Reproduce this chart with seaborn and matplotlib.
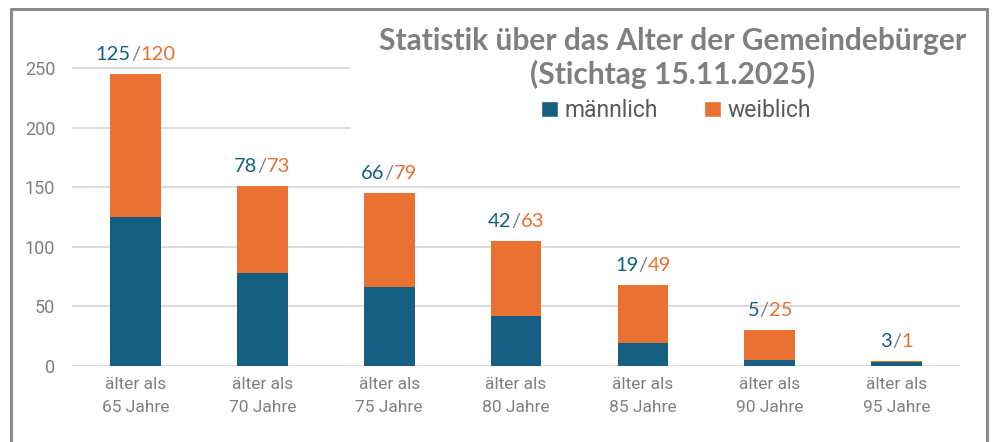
import matplotlib
matplotlib.use('Agg')
import matplotlib.pyplot as plt
import numpy as np
import pandas as pd
import seaborn as sns
from matplotlib.lines import Line2D
from matplotlib.patches import Patch, Rectangle
from matplotlib.offsetbox import AnnotationBbox, HPacker, TextArea

categories = ['älter als\n65 Jahre', 'älter als\n70 Jahre', 'älter als\n75 Jahre',
              'älter als\n80 Jahre', 'älter als\n85 Jahre', 'älter als\n90 Jahre',
              'älter als\n95 Jahre']
maennlich = [125, 78, 66, 42, 19, 5, 3]
weiblich = [120, 73, 79, 63, 49, 25, 1]
y_ticks = [0, 50, 100, 150, 200, 250]

blue = '#156082'
orange = '#e97132'
grey_txt = '#7f7f7f'

df = pd.DataFrame({'kat': categories, 'm': maennlich, 'w': weiblich})
df['total'] = df['m'] + df['w']

sns.set_style('white')
plt.rcParams['font.family'] = ['Roboto', 'DejaVu Sans']

fig = plt.figure(figsize=(9.94, 4.42), dpi=100)
ax = fig.add_axes([0.0724, 0.172, 0.8936, 0.728])

sns.barplot(data=df, x='kat', y='total', color=orange, saturation=1,
            width=0.4, linewidth=0, ax=ax, zorder=2)
sns.barplot(data=df, x='kat', y='m', color=blue, saturation=1,
            width=0.4, linewidth=0, ax=ax, zorder=3)

ax.set_xlim(-0.5, 6.5)
ax.set_ylim(0, 270)
ax.set_yticks(y_ticks)
ax.yaxis.grid(True, color='#d9d9d9', linewidth=1.3)
ax.set_axisbelow(True)
for s in ax.spines.values():
    s.set_visible(False)
ax.set_xlabel('')
ax.set_ylabel('')
ax.tick_params(axis='both', length=0, colors='#808080')
ax.tick_params(axis='x', pad=8, labelsize=12.5)
ax.tick_params(axis='y', pad=12, labelsize=13)
for lab in ax.get_xticklabels():
    lab.set_linespacing(1.7)

# white title box covering the upper gridlines
ax.add_patch(Rectangle((0.313, 0.70), 0.70, 0.40, transform=ax.transAxes,
                       facecolor='white', edgecolor='none', zorder=1,
                       clip_on=False))

# value labels "m/w"
for i, (m, w) in enumerate(zip(maennlich, weiblich)):
    parts = [TextArea(str(m), textprops=dict(color=blue, size=14.5, family='Lato')),
             TextArea('/', textprops=dict(color='#808080', size=14.5, family='Lato')),
             TextArea(str(w), textprops=dict(color=orange, size=14.5, family='Lato'))]
    box = HPacker(children=parts, align='baseline', pad=0, sep=0)
    ab = AnnotationBbox(box, (i, m + w), xybox=(0, 8), xycoords='data',
                        boxcoords='offset points', box_alignment=(0.5, 0),
                        frameon=False, zorder=5)
    ax.add_artist(ab)

fig.text(0.677, 0.907, 'Statistik über das Alter der Gemeindebürger',
         ha='center', va='center', fontsize=21.5, fontweight='bold',
         color=grey_txt, family='Lato')
fig.text(0.677, 0.832, '(Stichtag 15.11.2025)', ha='center', va='center',
         fontsize=21.5, fontweight='bold', color=grey_txt, family='Lato')

handles = [Patch(facecolor=blue, label='männlich'),
           Patch(facecolor=orange, label='weiblich')]
fig.legend(handles=handles, loc='center', bbox_to_anchor=(0.68, 0.75),
           ncol=2, frameon=False, fontsize=16.5, handlelength=0.75,
           handleheight=0.75, handletextpad=0.3, columnspacing=2.0,
           labelcolor='#595959')

# grey frame around the picture (no bottom edge)
for xs, ys in [([0.011, 0.011], [0.0, 0.98]), ([0.011, 0.993], [0.98, 0.98]),
               ([0.993, 0.993], [0.98, 0.0])]:
    fig.add_artist(Line2D(xs, ys, color='#8c8c8c', linewidth=2.2,
                          transform=fig.transFigure))

fig.savefig('out.png', dpi=100, facecolor='white')
